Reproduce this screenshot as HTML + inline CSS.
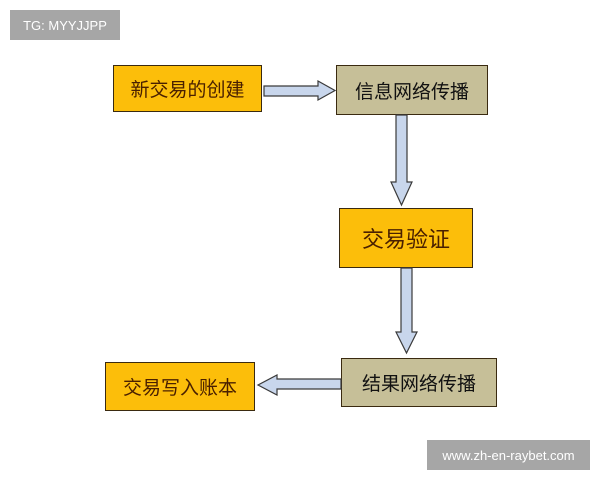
<!DOCTYPE html>
<html><head><meta charset="utf-8"><style>
body{margin:0;background:#fff;width:600px;height:480px;overflow:hidden;position:relative;font-family:"Liberation Sans","Noto Sans CJK SC",sans-serif}
.b{position:absolute;box-sizing:border-box;border:1.5px solid #3a2a10;display:flex;align-items:center;justify-content:center;font-size:19px;font-family:"Liberation Sans","WenQuanYi Zen Hei","Noto Sans CJK SC",sans-serif}
.y{background:#fcbe0a;color:#4a2000}
.t{background:#c6bf98;color:#111}
.tag{position:absolute;background:#a6a6a6;color:#fff;font-size:13px;display:flex;align-items:center;justify-content:center}
</style></head><body>
<div class="tag" style="left:10px;top:10px;width:110px;height:30px">TG: MYYJJPP</div>
<div class="tag" style="left:427px;top:440px;width:163px;height:30px">www.zh-en-raybet.com</div>
<div class="b y" style="left:113px;top:65px;width:149px;height:47px">新交易的创建</div>
<div class="b t" style="left:336px;top:65px;width:152px;height:50px">信息网络传播</div>
<div class="b y" style="left:339px;top:208px;width:134px;height:60px;font-size:22px">交易验证</div>
<div class="b t" style="left:341px;top:358px;width:156px;height:49px">结果网络传播</div>
<div class="b y" style="left:105px;top:362px;width:150px;height:49px">交易写入账本</div>
<svg width="600" height="480" style="position:absolute;left:0;top:0">
<g fill="#c8d6ec" stroke="#3a3a3a" stroke-width="1.2">
<polygon points="264,86 318,86 318,81 335,90.5 318,100 318,96 264,96"/>
<polygon points="396,115 407,115 407,182 412,182 401.5,205 391,182 396,182"/>
<polygon points="401,268 412,268 412,332 417,332 406.5,353 396,332 401,332"/>
<polygon points="341,379 277,379 277,375 258,385 277,395 277,389 341,389"/>
</g></svg>
</body></html>
